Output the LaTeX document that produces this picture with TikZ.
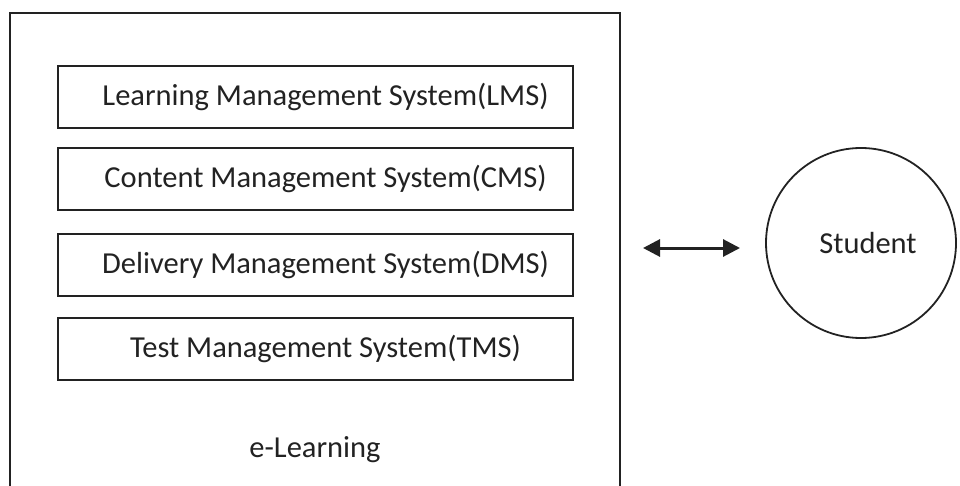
\documentclass[tikz,border=0pt]{standalone}
\usepackage{fontspec}
\setmainfont{Carlito}
\usetikzlibrary{arrows.meta}
\definecolor{ink}{HTML}{222222}
\begin{document}
\begin{tikzpicture}[x=1pt,y=-1pt,
  every node/.style={font=\fontsize{30.5}{36}\selectfont, text=ink},
  outerbox/.style={draw=ink, line width=1.6pt, minimum width=610pt, minimum height=474pt, inner sep=0pt},
  sysbox/.style={draw=ink, line width=1.8pt, minimum width=515pt, minimum height=62pt, inner sep=0pt, execute at begin node={\hspace*{20pt}}},
  studentnode/.style={draw=ink, line width=1.8pt, circle, minimum size=190pt, inner sep=0pt, execute at begin node={\hspace*{14pt}}},
  link/.style={draw=ink, line width=3pt, {Triangle[length=17pt,width=17pt]}-{Triangle[length=17pt,width=17pt]}}]
\useasboundingbox (0,0) rectangle (960,486);
\node[outerbox] (outer) at (315,250) {};
\node[sysbox] (lms) at (315.5,97) {Learning Management System(LMS)};
\node[sysbox] (cms) at (315.5,179) {Content Management System(CMS)};
\node[sysbox] (dms) at (315.5,265) {Delivery Management System(DMS)};
\node[sysbox] (tms) at (315.5,349) {Test Management System(TMS)};
\node (elabel) at (315,450) {e-Learning};
\node[studentnode] (student) at (861,243) {Student};
\coordinate (al) at (643,248);
\coordinate (ar) at (740,248);
\draw[link] (al) -- (ar);
\end{tikzpicture}
\end{document}
